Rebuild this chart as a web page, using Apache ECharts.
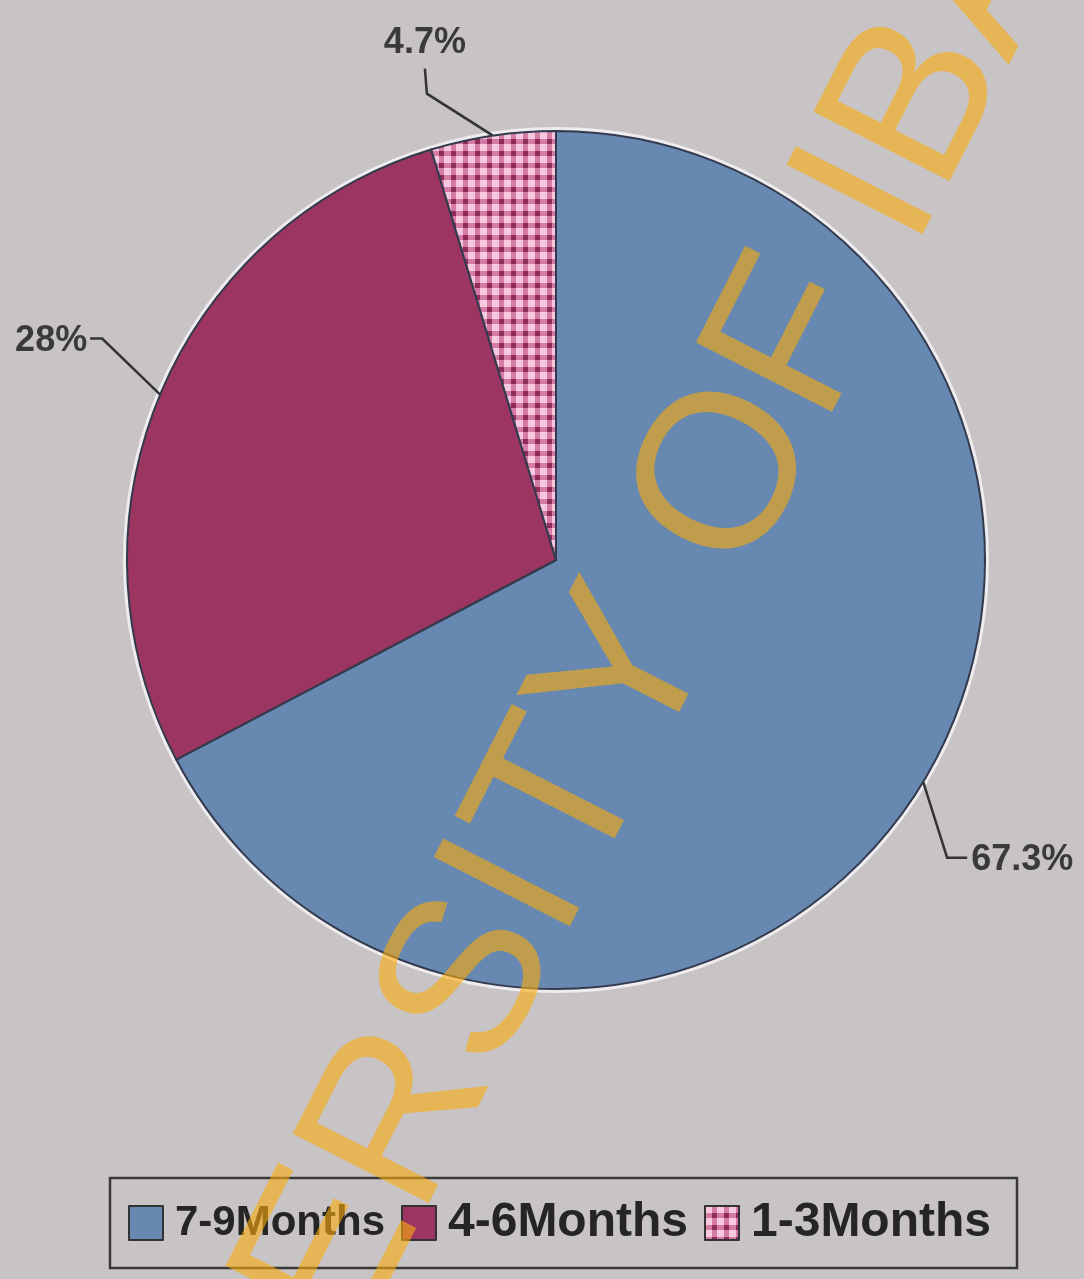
<!DOCTYPE html>
<html><head><meta charset="utf-8">
<script src="https://cdn.jsdelivr.net/npm/echarts@6/dist/echarts.min.js"></script>
<style>html,body{margin:0;padding:0;background:#c8c4c5}#chart{width:1084px;height:1279px}</style>
</head><body><div id="chart"></div>
<script>
// ---- data ----
const categories = ['7-9Months', '4-6Months', '1-3Months'];
const shares = [67.3, 28, 4.7];
const watermarkText = 'UNIVERSITY OF IBADAN';

// ---- styling ----
function makePattern() {
  const c = document.createElement('canvas');
  c.width = 12; c.height = 12;
  const g = c.getContext('2d');
  g.fillStyle = '#d67aa6'; g.fillRect(0, 0, 12, 12);
  g.fillStyle = '#f8c8df'; g.fillRect(0, 0, 7, 7);
  g.fillStyle = '#8e2c5a'; g.fillRect(7, 7, 5, 5);
  return c;
}
const sliceColors = ['#6788b0', '#9d3563', { image: makePattern(), repeat: 'repeat' }];
const labelOffsets = [
  { p1: [24, 76], p2: [20, 0], dx: 4, dy: 2, align: 'left', va: 'middle' },
  { p1: [-58, -56], p2: [-12, 0], dx: -3, dy: 2, align: 'right', va: 'middle' },
  { p1: [-66, -42], p2: [-2, -25], dx: 0, dy: -8, align: 'center', va: 'bottom' }
];

const chart = echarts.init(document.getElementById('chart'), null, { renderer: 'canvas' });
const pieData = categories.map((name, i) => ({
  name: name, value: shares[i], itemStyle: { color: sliceColors[i] }
}));

chart.setOption({
  backgroundColor: '#c8c4c5',
  animation: false,
  legend: {
    data: categories.map((n, i) => i === 0
      ? { name: n, textStyle: { fontSize: 42 } }
      : { name: n }),
    left: 110, top: 1178,
    orient: 'horizontal',
    icon: 'rect',
    itemWidth: 34, itemHeight: 34, itemGap: 16,
    padding: [21, 26, 21, 18],
    borderColor: '#383838', borderWidth: 2.5,
    itemStyle: { borderColor: '#333', borderWidth: 2 },
    textStyle: { fontFamily: 'Liberation Sans', fontWeight: 'bold', fontSize: 48, color: '#252525', padding: [0, 0, 0, 7] }
  },
  series: [
    {
      type: 'pie', name: 'halo', silent: true,
      center: [556, 560], radius: 433,
      label: { show: false }, labelLine: { show: false },
      itemStyle: { color: '#eeecef' },
      data: [{ name: 'halo', value: 1 }], z: 1
    },
    {
      type: 'pie', name: 'Duration',
      center: [556, 560], radius: 429,
      startAngle: 90, clockwise: true,
      itemStyle: { borderColor: '#323a4c', borderWidth: 2 },
      label: {
        show: true, position: 'outside', overflow: 'none',
        formatter: p => p.value + '%',
        fontFamily: 'Liberation Sans', fontWeight: 'bold', fontSize: 36, color: '#3a3a3a'
      },
      labelLine: { show: true, length: 30, length2: 20, lineStyle: { color: '#333', width: 2.5 } },
      labelLayout: function (p) {
        const pts = p.labelLinePoints;
        const o = labelOffsets[p.dataIndex];
        if (!pts || !o) return {};
        const s = pts[0];
        const a = [s[0] + o.p1[0], s[1] + o.p1[1]];
        const b = [a[0] + o.p2[0], a[1] + o.p2[1]];
        return {
          x: b[0] + o.dx, y: b[1] + o.dy,
          align: o.align, verticalAlign: o.va,
          labelLinePoints: [s, a, b]
        };
      },
      data: pieData, z: 2
    }
  ],
  graphic: [{
    type: 'text', z: 100, silent: true,
    x: 58, y: 1796, rotation: 63 * Math.PI / 180,
    style: {
      text: watermarkText, fontFamily: 'Liberation Sans', fontSize: 222,
      fill: 'rgba(250,172,12,0.6)', align: 'left', verticalAlign: 'middle'
    }
  }]
});
</script></body></html>
